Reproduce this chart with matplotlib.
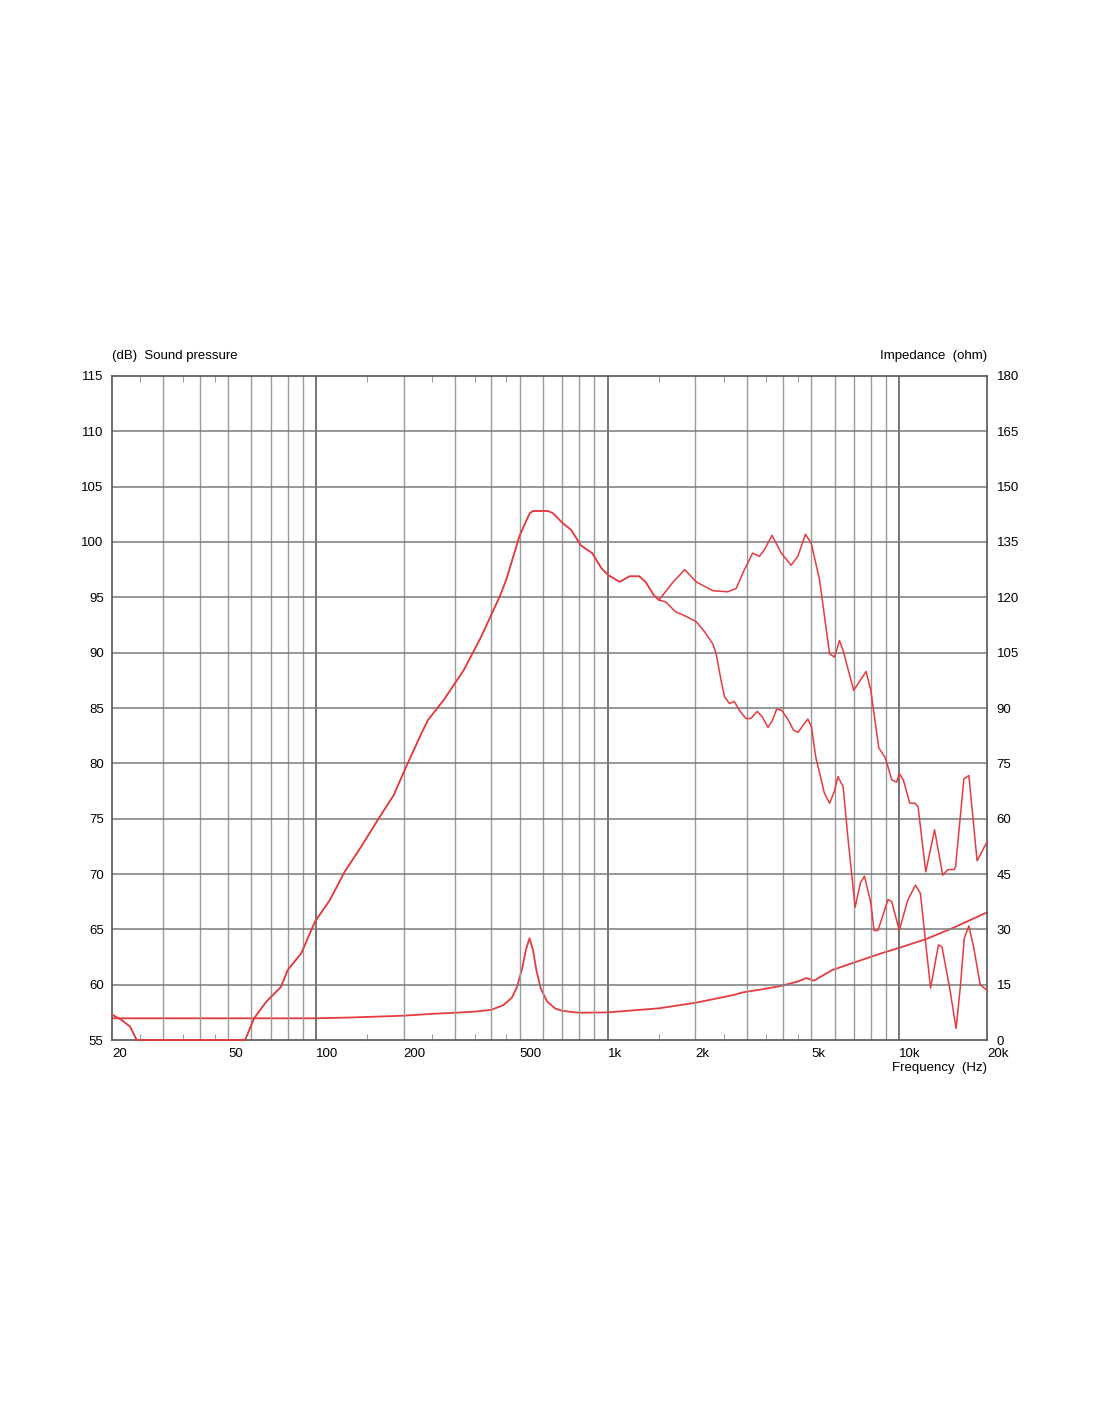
import numpy as np
import matplotlib
matplotlib.use("Agg")
import matplotlib.pyplot as plt
from matplotlib.ticker import FixedLocator, NullFormatter

plt.rcParams['font.family'] = ['Liberation Sans', 'DejaVu Sans']

# shared part of both SPL curves (Hz, dB)
freq_shared = [20, 21.6, 23.1, 24.3, 40, 56.4, 57.2, 61.4, 67.6, 75.9, 80.1, 89.1, 99.3,
               111.7, 125.5, 143, 164, 185, 204, 230, 242, 274, 321, 369, 399, 429,
               451, 469, 500, 541, 555, 625, 650, 702, 750, 810, 885, 955, 1007, 1100,
               1189, 1284, 1350, 1440, 1500]
spl_shared = [57.3, 56.8, 56.2, 55.0, 55.0, 55.0, 55.0, 56.96, 58.46, 59.8, 61.33, 62.84, 65.7,
              67.65, 70.2, 72.47, 75.0, 77.14, 79.7, 82.7, 83.9, 85.7, 88.4, 91.45, 93.4, 95.2,
              96.7, 98.2, 100.6, 102.6, 102.8, 102.8, 102.6, 101.7, 101.1, 99.7, 99.0, 97.6, 97.0, 96.4,
              96.9, 96.9, 96.4, 95.2, 94.75]

# on-axis curve above 1.5 kHz
freq_on = [1680, 1840, 2013, 2295, 2580, 2760, 2946, 3145, 3316, 3450, 3664, 3940, 4260,
           4490, 4770, 4990, 5330, 5770, 6000, 6240, 6420, 6980, 7700, 7990, 8510, 8960,
           9430, 9800, 10000, 10330, 10870, 11300, 11600, 12330, 13220, 14100, 14680, 15420,
           15600, 16660, 17330, 18490, 20000]
spl_on = [96.4, 97.5, 96.4, 95.6, 95.5, 95.8, 97.5, 99.0, 98.7, 99.3, 100.6, 99.0, 97.9,
          98.7, 100.7, 99.9, 96.6, 89.9, 89.6, 91.1, 90.2, 86.6, 88.3, 86.6, 81.4, 80.5,
          78.5, 78.3, 79.1, 78.5, 76.4, 76.4, 76.1, 70.2, 74.0, 69.9, 70.4, 70.4,
          70.65, 78.6, 78.9, 71.2, 72.9]

# off-axis curve above 1.5 kHz
freq_off = [1580, 1710, 1870, 2013, 2150, 2295, 2357, 2450, 2520, 2620, 2720, 2830, 2980,
            3100, 3260, 3390, 3550, 3680, 3800, 3950, 4170, 4340, 4500, 4700, 4860, 5000,
            5180, 5540, 5770, 6000, 6160, 6420, 6680, 7060, 7360, 7600, 7990, 8200, 8450,
            9160, 9430, 10000, 10700, 11370, 11820, 12330, 12810, 13630, 14020, 14870,
            15670, 16200, 16710, 17330, 18000, 18950, 20000]
spl_off = [94.6, 93.7, 93.25, 92.8, 91.9, 90.8, 89.9, 87.5, 86.0, 85.4, 85.6, 84.8, 84.05,
           84.05, 84.7, 84.2, 83.25, 83.9, 84.9, 84.8, 83.9, 83.0, 82.8, 83.5, 84.0, 83.3,
           80.5, 77.3, 76.4, 77.5, 78.8, 77.9, 73.1, 67.0, 69.2, 69.8, 67.4, 64.9, 64.9,
           67.7, 67.5, 64.9, 67.65, 69.0, 68.25, 63.7, 59.7, 63.6, 63.4, 59.8,
           56.05, 59.8, 64.2, 65.3, 63.4, 60.0, 59.5]

# impedance (ohm)
freq_imp = [20, 100, 130, 200, 250, 300, 350, 400, 440, 470, 490, 510, 525, 540, 555, 570,
            590, 620, 660, 700, 800, 1000, 1500, 2000, 2700, 2900, 3000, 3300, 3900, 4500,
            4800, 5100, 5900, 7000, 8600, 10000, 12400, 15200, 20000]
imp = [5.9, 5.9, 6.1, 6.6, 7.1, 7.4, 7.7, 8.2, 9.5, 11.5, 14.5, 19.5, 24.5, 27.6, 24.5, 19.0,
       14.0, 10.5, 8.6, 7.9, 7.4, 7.5, 8.6, 10.1, 12.2, 12.9, 13.1, 13.6, 14.6, 15.9,
       16.8, 16.1, 19.0, 21.0, 23.4, 25.0, 27.4, 30.3, 34.6]

xtick_pos = [20, 50, 100, 200, 500, 1000, 2000, 5000, 10000, 20000]
xtick_lab = ['20', '50', '100', '200', '500', '1k', '2k', '5k', '10k', '20k']

red = '#e63b3f'
fs = 9.5

fig = plt.figure(figsize=(11, 14.22), dpi=100)
ax = fig.add_axes([0.1018, 0.2686, 0.7955, 0.467])
ax.set_xscale('log')
ax.set_xlim(20, 20000)
ax.set_ylim(55, 115)

# grid
for dec in [10, 100, 1000]:
    for m in range(2, 10):
        f = m * dec
        if 20 < f < 20000:
            ax.axvline(f, color='#9a9a9a', lw=1.0, zorder=1)
for f in [100, 1000, 10000]:
    ax.axvline(f, color='#6a6a6a', lw=1.3, zorder=1)
for v in range(60, 115, 5):
    ax.axhline(v, color='#7a7a7a', lw=1.1, zorder=1)

ax2 = ax.twinx()
ax2.set_ylim(0, 180)
ax2.plot(freq_imp, imp, color=red, lw=1.3, zorder=3)
for s in ax2.spines.values():
    s.set_visible(False)

# SPL curves drawn on top so the clipped part along 55 dB shows over the spine
ax.set_zorder(ax2.get_zorder() + 1)
ax.patch.set_visible(False)
freq_on_full = freq_shared + freq_on
spl_on_full = spl_shared + spl_on
freq_off_full = freq_shared + freq_off
spl_off_full = spl_shared + spl_off
ax.plot(freq_on_full, spl_on_full, color=red, lw=1.1, zorder=4, clip_on=False)
ax.plot(freq_off_full, spl_off_full, color=red, lw=1.1, zorder=4, clip_on=False)

ax.set_yticks(range(55, 116, 5))
ax2.set_yticks(range(0, 181, 15))
ax.tick_params(axis='y', length=0, pad=6, labelsize=fs)
ax2.tick_params(axis='y', length=0, pad=7, labelsize=fs)

ax.xaxis.set_major_locator(FixedLocator(xtick_pos))
ax.set_xticklabels(xtick_lab, ha='left')
minor = [m * d for d in [10, 100, 1000] for m in [1.5, 2.5, 3.5, 4.5] if 20 < m * d < 20000]
ax.xaxis.set_minor_locator(FixedLocator(minor))
ax.xaxis.set_minor_formatter(NullFormatter())
ax.tick_params(axis='x', which='major', length=0, pad=6, labelsize=fs)
ax.tick_params(axis='x', which='minor', direction='in', length=4, color='#888888',
               top=True, bottom=True)

for s in ax.spines.values():
    s.set_color('#555555')
    s.set_linewidth(1.2)
    s.set_zorder(2)

fig.text(0.1018, 1 - 356 / 1422, '(dB)  Sound pressure', fontsize=fs, ha='left', va='center')
fig.text(0.8973, 1 - 356 / 1422, 'Impedance  (ohm)', fontsize=fs, ha='right', va='center')
fig.text(0.8973, 1 - 1068 / 1422, 'Frequency  (Hz)', fontsize=fs, ha='right', va='center')

fig.savefig('out.png', dpi=100)
